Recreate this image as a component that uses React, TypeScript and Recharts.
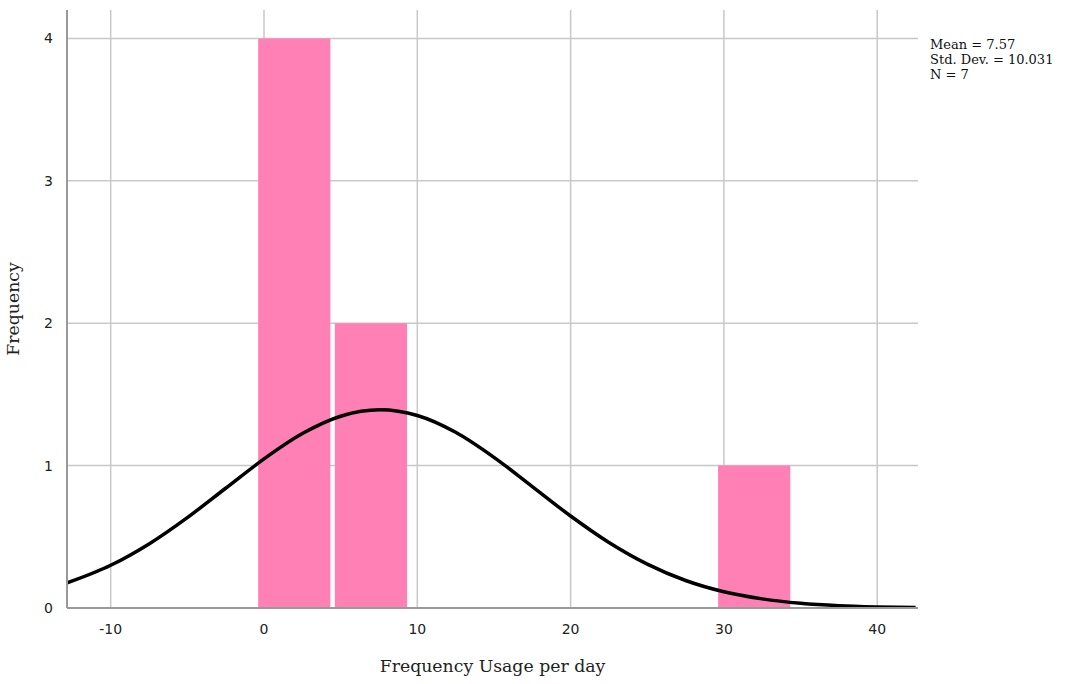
import {
  ComposedChart,
  Line,
  XAxis,
  YAxis,
  CartesianGrid,
  ReferenceArea,
} from 'recharts';

// histogram bins: left edge, right edge, count (bars drawn with a small gap)
const binStart = [-0.38, 4.62, 29.62];
const binEnd = [4.33, 9.33, 34.33];
const binCounts = [4, 2, 1];

// fitted normal curve
const curveX = [-13, -10, -7.5, -5, -2.5, 0, 2.5, 5, 7.57, 10, 12.5, 15, 17.5, 20, 22.5, 25, 27.5, 30, 32.5, 35, 37.5, 40, 42.5];
const curveY = [0.17, 0.3, 0.45, 0.635, 0.841, 1.047, 1.225, 1.347, 1.392, 1.352, 1.234, 1.058, 0.853, 0.646, 0.46, 0.308, 0.193, 0.114, 0.064, 0.033, 0.016, 0.0075, 0.003];

const xTicks = [-10, 0, 10, 20, 30, 40];
const yTicks = [0, 1, 2, 3, 4];
const stats = ['Mean = 7.57', 'Std. Dev. = 10.031', 'N = 7'];

const curve = curveX.map((x, i) => ({ x, density: curveY[i] }));

const tickStyle = { fontSize: 14, fill: '#222', fontFamily: 'DejaVu Sans' };
const titleStyle = { fontSize: 17.3, fill: '#222', fontFamily: 'DejaVu Serif' };

export default function App() {
  return (
    <div style={{ position: 'absolute', left: 0, top: 0, width: 1066, height: 684, background: '#fff' }}>
      <ComposedChart
        width={1066}
        height={684}
        data={curve}
        margin={{ top: 10, right: 148, left: 7, bottom: 0 }}
      >
        <CartesianGrid stroke='#c8c8c8' strokeWidth={1.5} syncWithTicks />
        <XAxis
          dataKey='x'
          type='number'
          domain={[-12.85, 42.66]}
          ticks={xTicks}
          allowDataOverflow
          tick={tickStyle}
          tickLine={false}
          axisLine={{ stroke: '#999', strokeWidth: 2 }}
          tickMargin={10}
          label={{
            value: 'Frequency Usage per day',
            position: 'insideBottom',
            offset: 12,
            style: titleStyle,
          }}
          height={76}
        />
        <YAxis
          type='number'
          domain={[0, 4.2]}
          ticks={yTicks}
          allowDataOverflow
          tick={tickStyle}
          tickLine={false}
          axisLine={{ stroke: '#999', strokeWidth: 2 }}
          tickMargin={8}
          width={60}
          label={{
            value: 'Frequency',
            angle: -90,
            position: 'insideLeft',
            offset: 6,
            style: { ...titleStyle, textAnchor: 'middle' },
          }}
        />
        {binCounts.map((c, i) => (
          <ReferenceArea
            key={i}
            x1={binStart[i]}
            x2={binEnd[i]}
            y1={0}
            y2={c}
            fill='#ff80b4'
            fillOpacity={1}
            stroke='none'
            ifOverflow='visible'
          />
        ))}
        <Line
          dataKey='density'
          type='monotone'
          stroke='#000'
          strokeWidth={3.5}
          dot={false}
          activeDot={false}
          isAnimationActive={false}
        />
      </ComposedChart>
      <div
        style={{
          position: 'absolute',
          left: 930,
          top: 37,
          fontFamily: 'DejaVu Serif',
          fontSize: 13,
          lineHeight: '15px',
          color: '#111',
        }}
      >
        {stats.map((s) => (
          <div key={s}>{s}</div>
        ))}
      </div>
    </div>
  );
}
